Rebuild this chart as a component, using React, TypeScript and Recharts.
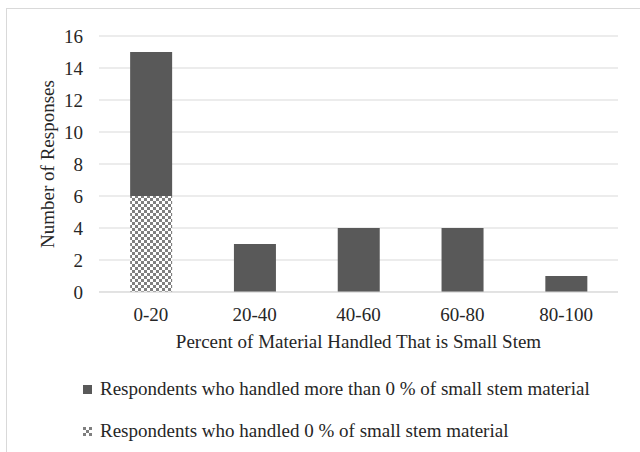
import { BarChart, Bar, XAxis, YAxis, CartesianGrid, Legend } from "recharts";

const categories = ["0-20", "20-40", "40-60", "60-80", "80-100"];
const moreThanZero = [9, 3, 4, 4, 1];
const zeroPercent = [6, 0, 0, 0, 0];
const yTicks = [0, 2, 4, 6, 8, 10, 12, 14, 16];

const data = categories.map((range, i) => ({
  range,
  zero: zeroPercent[i],
  more: moreThanZero[i],
}));

const FONT = "Liberation Serif, Times New Roman, serif";
const SIZE = 19;
const TEXT = "#262626";

function LegendBox() {
  const rows = [
    { label: "Respondents who handled more than 0 % of small stem material", fill: "#595959" },
    { label: "Respondents who handled 0 % of small stem material", fill: "url(#checker)" },
  ];
  return (
    <div style={{ fontFamily: FONT, fontSize: SIZE, color: TEXT }}>
      {rows.map((r) => (
        <div key={r.label} style={{ height: 42, lineHeight: "42px", display: "flex", alignItems: "center", whiteSpace: "nowrap" }}>
          <svg width={9} height={9} style={{ marginRight: 8 }}>
            <rect width={9} height={9} fill={r.fill} />
          </svg>
          <span>{r.label}</span>
        </div>
      ))}
    </div>
  );
}

export default function App() {
  return (
    <div style={{ position: "absolute", left: 0, top: 0, width: 640, height: 452, overflow: "hidden", background: "#fff" }}>
      <div
        style={{
          position: "absolute",
          left: 6,
          top: 8,
          width: 660,
          height: 470,
          border: "1.5px solid #d9d9d9",
        }}
      />
      <BarChart
        width={640}
        height={452}
        data={data}
        margin={{ top: 36, right: 22, left: 0, bottom: 130 }}
        barCategoryGap="30%"
        style={{ position: "absolute", left: 0, top: 0 }}
      >
        <defs>
          <pattern id="checker" width={6} height={6} patternUnits="userSpaceOnUse">
            <rect width={6} height={6} fill="#ffffff" />
            <rect x={0} y={0} width={3} height={3} fill="#7f7f7f" />
            <rect x={3} y={3} width={3} height={3} fill="#7f7f7f" />
          </pattern>
        </defs>
        <CartesianGrid vertical={false} stroke="#d9d9d9" />
        <XAxis
          dataKey="range"
          axisLine={{ stroke: "#d9d9d9" }}
          tickLine={false}
          tickMargin={10}
          height={30}
          tick={{ fontFamily: FONT, fontSize: SIZE, fill: TEXT }}
          label={{
            value: "Percent of Material Handled That is Small Stem",
            position: "bottom",
            offset: 13,
            style: { fontFamily: FONT, fontSize: SIZE, fill: TEXT },
          }}
        />
        <YAxis
          width={99}
          domain={[0, 16]}
          ticks={yTicks}
          axisLine={false}
          tickLine={false}
          tickMargin={10}
          tick={{ fontFamily: FONT, fontSize: SIZE, fill: TEXT }}
          label={{
            value: "Number of Responses",
            angle: -90,
            position: "insideLeft",
            offset: 47,
            textAnchor: "middle",
            style: { fontFamily: FONT, fontSize: SIZE, fill: TEXT, textAnchor: "middle" },
          }}
        />
        <Legend
          layout="vertical"
          align="center"
          verticalAlign="middle"
          content={() => <LegendBox />}
          wrapperStyle={{ position: "absolute", left: 83, top: 368, width: 550 }}
        />
        <Bar dataKey="zero" stackId="a" fill="url(#checker)" isAnimationActive={false} />
        <Bar dataKey="more" stackId="a" fill="#595959" isAnimationActive={false} />
      </BarChart>
    </div>
  );
}
